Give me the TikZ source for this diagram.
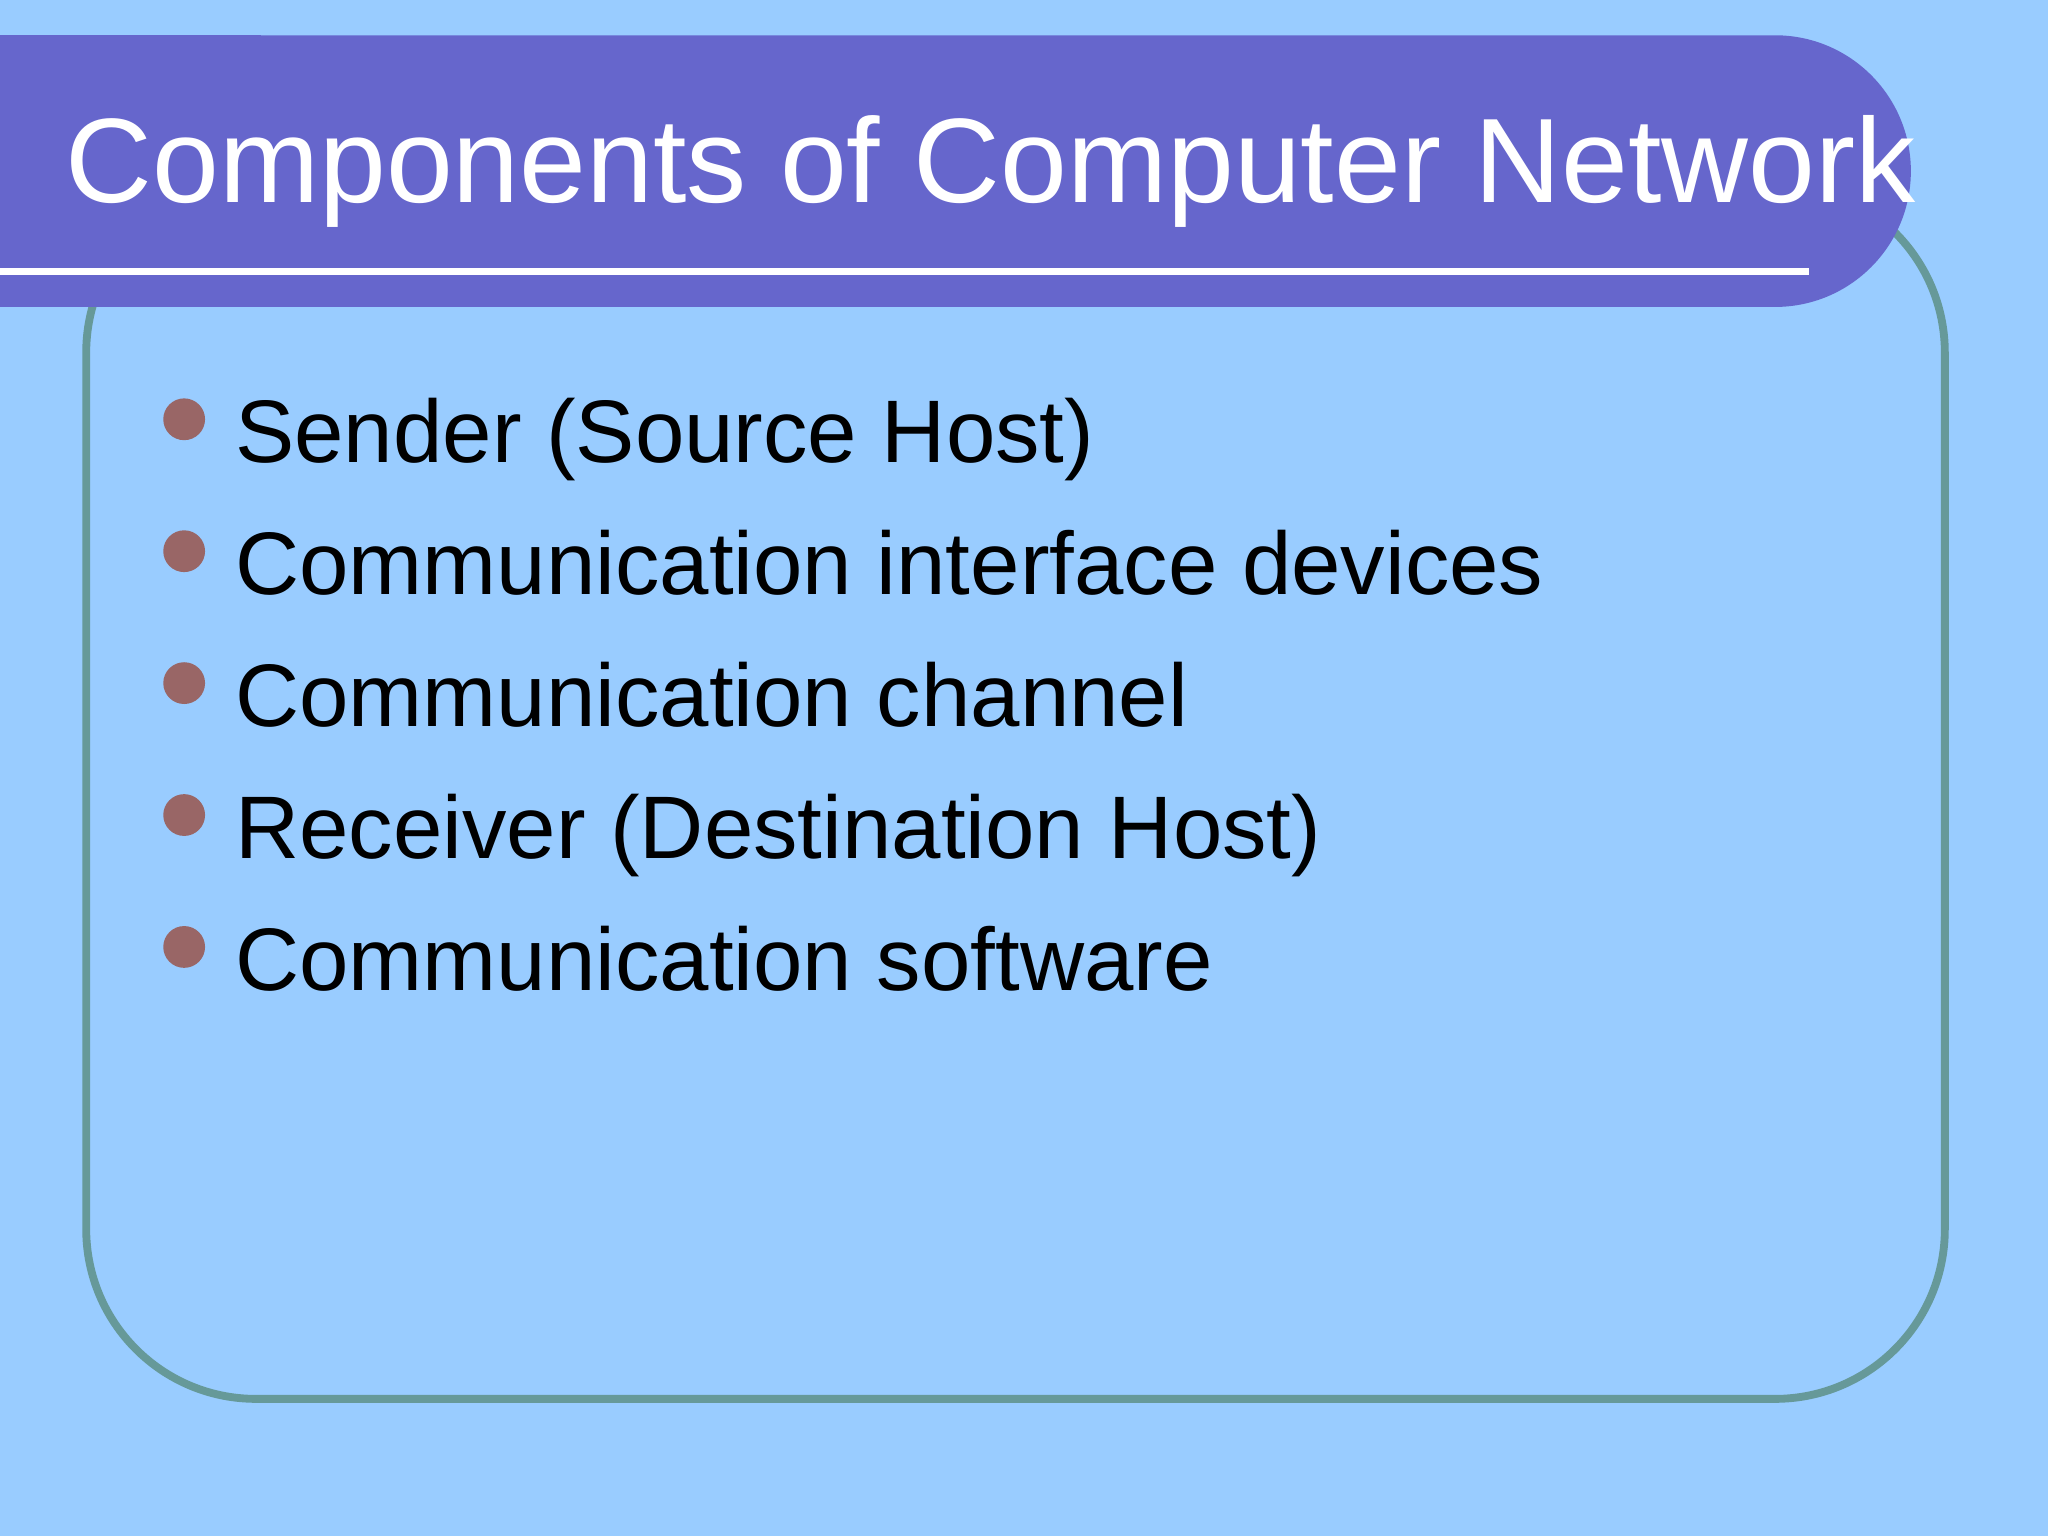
\documentclass[tikz,border=0pt]{standalone}
\usepackage{fontspec}
\setmainfont{Liberation Sans}
\definecolor{bg}{RGB}{153,204,255}
\definecolor{ban}{RGB}{102,102,204}
\definecolor{frame}{RGB}{102,153,153}
\definecolor{dot}{RGB}{153,102,102}
\begin{document}
\begin{tikzpicture}[x=1pt,y=-1pt,
  item/.style={anchor=base west,inner sep=0pt,font=\fontsize{68}{80}\selectfont},
  bul/.style={circle,fill=dot,minimum size=32pt,inner sep=0pt}]
\fill[bg] (0,0) rectangle (1568,1176);
\useasboundingbox (0,0) rectangle (1568,1176);
\draw[frame,line width=6pt,rounded corners=130pt] (66,140) rectangle (1489,1071);
\fill[ban,rounded corners=104pt] (-200,27) rectangle (1463,235);
\fill[ban] (0,27) rectangle (200,235);
\draw[white,line width=5pt] (0,208) -- (1385,208);
\node[anchor=base west,inner sep=0pt,text=white,font=\fontsize{92}{100}\selectfont] (title) at (50,155) {Components of Computer Network};
\foreach \i/\t [count=\k] in {0/Sender (Source Host),1/Communication interface devices,2/Communication channel,3/Receiver (Destination Host),4/Communication software}{
  \node[bul] (b\k) at (141,{321+101*\i}) {};
  \node[item] (t\k) at (180,{354+101*\i}) {\t};
}
\end{tikzpicture}
\end{document}
